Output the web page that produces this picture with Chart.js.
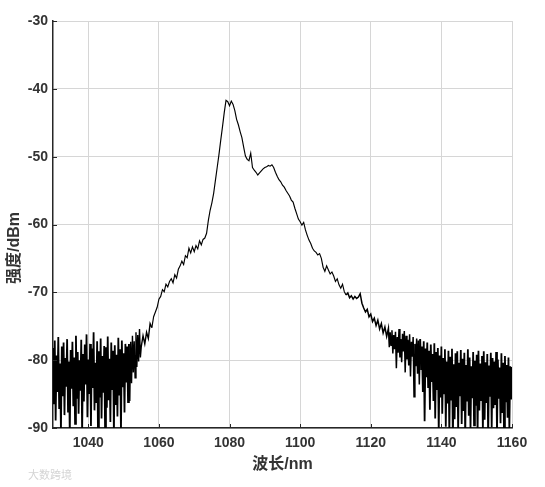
<!DOCTYPE html>
<html>
<head>
<meta charset="utf-8">
<script src="https://cdn.jsdelivr.net/npm/chart.js@4"></script>
<style>
  html, body { margin: 0; padding: 0; background: #fff; }
  #wrap { width: 545px; height: 487px; }
</style>
</head>
<body>
<div id="wrap"><canvas id="spec" width="545" height="487"></canvas></div>
<script>
// 波长 (nm) 网格: 两侧噪声段 0.25 nm 采样, 中间主峰 0.5 nm 采样
const leftStart = 1030, mainStart = 1055, rightStart = 1125;
const noiseStep = 0.25, mainStep = 0.5;

// 1030 ~ 1054.75 nm 噪声底
const leftNoise = [
  -78.2, -86.5, -77.1, -88.9, -79.3, -84.7, -76.6, -87.2,
  -80.5, -90.5, -78.0, -85.3, -77.4, -88.1, -79.7, -83.9,
  -76.9, -87.6, -80.2, -91.0, -78.5, -84.2, -77.3, -86.8,
  -79.6, -89.4, -76.4, -85.7, -78.8, -87.9, -80.0, -84.5,
  -77.0, -90.8, -79.1, -86.1, -77.7, -83.6, -76.2, -88.4,
  -79.9, -85.0, -77.6, -89.7, -78.3, -84.1, -75.9, -87.4,
  -80.4, -86.3, -77.2, -91.2, -78.7, -85.5, -76.8, -88.6,
  -79.4, -84.8, -77.9, -90.3, -78.1, -87.0, -76.5, -85.9,
  -79.8, -89.1, -77.4, -84.4, -78.6, -90.9, -77.8, -86.6,
  -79.2, -88.3, -76.7, -85.2, -78.4, -90.6, -77.1, -84.0,
  -79.0, -87.7, -77.6, -83.3, -78.0, -86.2, -77.6, -86.0,
  -77.3, -83.4, -76.4, -81.8, -77.2, -82.6, -75.9, -81.0,
  -76.3, -80.2, -75.4, -79.6
];

// 1055 ~ 1124.5 nm 主峰
const mainCurve = [
  -78.0, -76.4, -77.6, -75.9, -76.8, -74.6, -75.2, -73.6, -72.9, -72.2,
  -71.0, -70.6, -69.6, -69.9, -68.8, -69.2, -68.4, -68.0, -68.6, -67.4,
  -67.9, -66.6, -66.1, -65.4, -65.9, -64.6, -64.9, -63.5, -64.2, -63.3,
  -64.0, -63.1, -63.6, -62.4, -63.0, -62.2, -62.0, -61.3, -59.4, -57.9,
  -56.8, -55.4, -53.5, -51.6, -49.7, -47.6, -45.6, -43.5, -41.7, -41.9,
  -42.5, -41.8, -42.3, -43.2, -44.5, -45.3, -46.3, -47.2, -48.6, -49.9,
  -50.4, -50.6, -49.5, -51.6, -52.0, -52.3, -52.7, -52.4, -52.1, -51.8,
  -51.6, -51.5, -51.3, -51.4, -51.2, -51.6, -52.3, -52.9, -53.4, -53.7,
  -54.2, -54.5, -55.0, -55.4, -55.8, -56.4, -56.7, -57.6, -58.4, -59.2,
  -59.6, -60.1, -59.7, -60.8, -61.6, -62.3, -62.8, -63.5, -63.9, -64.1,
  -64.5, -64.3, -65.0, -66.3, -66.9, -66.1, -66.7, -67.3, -67.0, -67.6,
  -68.4, -68.0, -68.9, -69.4, -68.8, -69.9, -70.4, -70.1, -70.8, -70.5,
  -71.0, -70.6, -70.9, -70.7, -70.2, -71.6, -72.3, -72.9, -72.5, -73.6,
  -73.2, -74.3, -73.8, -74.9, -74.1, -75.4, -74.6, -76.0, -75.1, -76.5
];

// 1125 ~ 1160 nm 噪声底
const rightNoise = [
  -75.3, -78.1, -75.9, -77.8, -75.6, -79.0, -76.3, -78.4,
  -75.8, -81.2, -76.6, -78.9, -75.4, -79.6, -76.9, -80.3,
  -76.1, -78.7, -75.7, -81.8, -76.4, -79.9, -77.0, -80.8,
  -76.2, -82.4, -77.3, -79.5, -76.6, -85.4, -77.6, -80.9,
  -76.8, -82.0, -77.1, -83.6, -76.9, -81.3, -78.0, -84.7,
  -77.2, -89.0, -78.3, -82.5, -77.4, -84.1, -78.6, -87.3,
  -77.7, -83.2, -79.1, -86.0, -77.5, -88.6, -78.8, -84.4,
  -78.2, -90.7, -79.3, -85.5, -78.0, -87.9, -79.7, -84.9,
  -78.4, -89.8, -80.2, -86.4, -78.6, -91.0, -79.5, -85.8,
  -78.3, -92.0, -80.6, -88.7, -79.0, -86.9, -78.7, -90.5,
  -80.4, -85.3, -78.5, -89.4, -79.8, -87.5, -78.9, -91.4,
  -80.7, -86.1, -78.4, -88.2, -79.6, -90.2, -80.9, -85.6,
  -78.8, -89.6, -80.1, -86.7, -79.2, -91.1, -78.6, -87.4,
  -80.5, -85.9, -79.4, -90.4, -78.7, -88.8, -80.3, -86.3,
  -79.1, -91.6, -80.8, -85.4, -78.9, -89.9, -79.7, -87.1,
  -80.2, -86.6, -78.8, -90.9, -79.9, -85.7, -81.1, -89.3,
  -79.0, -87.8, -80.4, -91.3, -79.4, -86.2, -80.7, -88.5,
  -79.6, -90.1, -80.9, -85.8, -81.0
];

const xTicks = [1040, 1060, 1080, 1100, 1120, 1140, 1160];
const yTicks = [-90, -80, -70, -60, -50, -40, -30];
const xTitle = '波长/nm';
const yTitle = '强度/dBm';

function toPoints(start, step, arr) {
  return arr.map(function(v, i) { return { x: start + i * step, y: v }; });
}
const points = []
  .concat(toPoints(leftStart, noiseStep, leftNoise))
  .concat(toPoints(mainStart, mainStep, mainCurve))
  .concat(toPoints(rightStart, noiseStep, rightNoise));

const tickFont = { family: "'Liberation Sans', Arial, sans-serif", size: 14, weight: 'bold' };
const axisColor = '#262626';
const gridColor = '#d6d6d6';

// 噪声段线条更粗一点, 让噪声带看起来更密
function segWidth(ctx) {
  const x0 = ctx.p0.parsed.x;
  if (x0 < 1051.5) return 1.8;
  if (x0 < 1058) return 1.4;
  if (x0 >= 1134) return 1.8;
  if (x0 >= 1113) return 1.5;
  return 1.15;
}

// 坐标轴标题、内向刻度、水印
const decorPlugin = {
  id: 'decor',
  afterDraw(chart) {
    const ctx = chart.ctx;
    const a = chart.chartArea;
    const xs = chart.scales.x, ys = chart.scales.y;
    ctx.save();
    ctx.strokeStyle = axisColor;
    ctx.lineWidth = 1;
    xTicks.forEach(function(t) {
      const px = Math.round(xs.getPixelForValue(t)) + 0.5;
      ctx.beginPath(); ctx.moveTo(px, a.bottom); ctx.lineTo(px, a.bottom - 4); ctx.stroke();
    });
    yTicks.forEach(function(t) {
      const py = Math.round(ys.getPixelForValue(t)) + 0.5;
      ctx.beginPath(); ctx.moveTo(a.left, py); ctx.lineTo(a.left + 4, py); ctx.stroke();
    });

    ctx.fillStyle = '#333';
    ctx.font = "bold 16px 'Liberation Sans', 'Noto Sans CJK SC', sans-serif";
    ctx.textAlign = 'center';
    ctx.textBaseline = 'middle';
    ctx.fillText(xTitle, (a.left + a.right) / 2, 465);

    ctx.translate(15, 248);
    ctx.rotate(-Math.PI / 2);
    ctx.fillText(yTitle, 0, 0);
    ctx.restore();

    ctx.save();
    ctx.fillStyle = '#d4d4d4';
    ctx.font = "11px 'Noto Sans CJK SC', sans-serif";
    ctx.textAlign = 'left';
    ctx.textBaseline = 'middle';
    ctx.fillText('大数跨境', 28, 475);
    ctx.restore();
  }
};

new Chart(document.getElementById('spec'), {
  type: 'line',
  data: {
    datasets: [{
      data: points,
      borderColor: '#000',
      borderWidth: 1.15,
      segment: { borderWidth: segWidth },
      pointRadius: 0,
      tension: 0,
      fill: false
    }]
  },
  options: {
    responsive: false,
    animation: false,
    parsing: false,
    layout: { padding: { top: 21, right: 33, left: 0, bottom: 0 } },
    plugins: { legend: { display: false }, tooltip: { enabled: false } },
    scales: {
      x: {
        type: 'linear',
        min: 1030,
        max: 1160,
        afterFit: function(s) { s.height = 59; },
        afterBuildTicks: function(s) { s.ticks = xTicks.map(function(v) { return { value: v }; }); },
        ticks: { font: tickFont, color: '#333', padding: 7, maxRotation: 0,
                 callback: function(v) { return String(v); } },
        grid: { color: gridColor, lineWidth: 1, drawTicks: false },
        border: { color: axisColor, width: 1.5 }
      },
      y: {
        min: -90,
        max: -30,
        afterFit: function(s) { s.width = 53; },
        afterBuildTicks: function(s) { s.ticks = yTicks.map(function(v) { return { value: v }; }); },
        ticks: { font: tickFont, color: '#333', padding: 5,
                 callback: function(v) { return String(v); } },
        grid: { color: gridColor, lineWidth: 1, drawTicks: false },
        border: { color: axisColor, width: 1.5 }
      }
    }
  },
  plugins: [decorPlugin]
});
</script>
</body>
</html>
